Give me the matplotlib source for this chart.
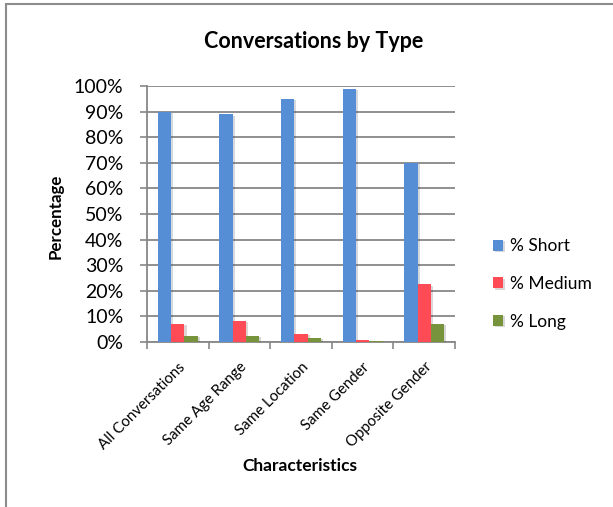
import matplotlib
matplotlib.use("Agg")
import matplotlib.pyplot as plt
import matplotlib.patheffects as pe
from matplotlib.patches import Rectangle
from matplotlib.ticker import FuncFormatter
import numpy as np

categories = ["All Conversations", "Same Age Range", "Same Location",
              "Same Gender", "Opposite Gender"]
short_pct = [90, 89, 95, 99, 70]
medium_pct = [7.2, 8.2, 3.3, 0.7, 22.6]
long_pct = [2.5, 2.5, 1.7, 0.2, 7.2]
series_names = ["% Short", "% Medium", "% Long"]
colors = ["#558ED5", "#FF4B55", "#77933C"]
y_ticks = list(range(0, 101, 10))

plt.rcParams["font.family"] = ["Lato", "DejaVu Sans"]

fig = plt.figure(figsize=(6.13, 5.07), dpi=100)
ax = fig.add_axes([147 / 613, 1 - 342 / 507, 308 / 613, 256 / 507])

# chart frame
fig.patches.append(Rectangle((6 / 613, -0.1), 1.2, 1 - 4 / 507 + 0.1,
                             transform=fig.transFigure, fill=False,
                             edgecolor="#8c8c8c", linewidth=1.5))

x = np.arange(len(categories))
w = 0.216
shadow = [pe.SimplePatchShadow(offset=(1.5, -1), alpha=0.18), pe.Normal()]
for i, (vals, name, c) in enumerate(zip([short_pct, medium_pct, long_pct],
                                        series_names, colors)):
    ax.bar(x + (i - 1) * w, vals, width=w, color=c, label=name,
           zorder=3, path_effects=shadow)

ax.set_xlim(-0.5, len(categories) - 0.5)
ax.set_ylim(0, 100)
ax.set_yticks(y_ticks)
ax.yaxis.set_major_formatter(FuncFormatter(lambda v, p: f"{int(v)}%"))
ax.tick_params(axis="y", labelsize=14, length=5, width=1.2, color="#878787",
               pad=12, labelcolor="#000000")
ax.grid(axis="y", color="#878787", linewidth=1.3, zorder=0)

ax.set_xticks(x)
ax.set_xticklabels(categories, rotation=45, ha="right",
                   rotation_mode="anchor", fontsize=10.8)
ax.set_xticks(np.arange(-0.5, len(categories)), minor=True)
ax.tick_params(axis="x", which="major", length=0, pad=13)
ax.tick_params(axis="x", which="minor", length=5, width=1.2, color="#878787")

for s in ["top", "right"]:
    ax.spines[s].set_visible(False)
for s in ["left", "bottom"]:
    ax.spines[s].set_color("#878787")
    ax.spines[s].set_linewidth(1.3)

fig.text(314 / 613, 1 - 41 / 507, "Conversations by Type", ha="center",
         va="center", fontsize=15.5, fontweight="bold")
fig.text(56 / 613, 1 - 216 / 507, "Percentage", ha="center", va="center",
         rotation=90, fontsize=12.2, fontweight="bold")
fig.text(300 / 613, 1 - 466 / 507, "Characteristics", ha="center",
         va="center", fontsize=12.5, fontweight="bold")

fig.legend(loc="center left", bbox_to_anchor=(477 / 613, 1 - 284 / 507),
           frameon=False, fontsize=12.5, handlelength=0.6, handleheight=0.6,
           handletextpad=0.4, labelspacing=1.25)

fig.savefig("out.png", dpi=100)
